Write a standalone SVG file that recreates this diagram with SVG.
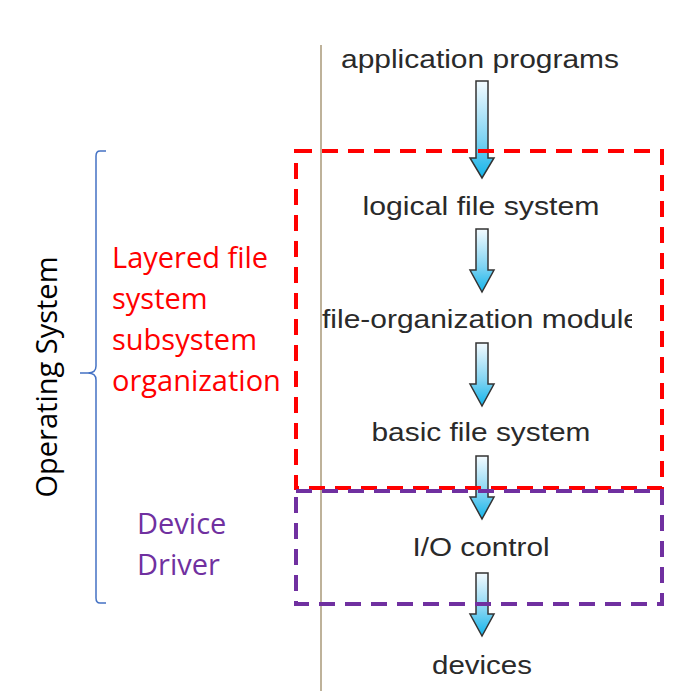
<svg xmlns="http://www.w3.org/2000/svg" width="686" height="691" viewBox="0 0 686 691">
<style>
.lbl{font-family:"Liberation Sans",Arial,sans-serif;font-size:26px;fill:#2a2a2a;text-anchor:middle}
.side{font-family:"Open Sans","Noto Sans",sans-serif;font-size:29px}
.arrow{fill:url(#ag);stroke:#333;stroke-width:1.5}
</style>
<defs>
<linearGradient id="ag" x1="0" y1="0" x2="0" y2="1">
<stop offset="0" stop-color="#f4fbff"/>
<stop offset="0.6" stop-color="#7fd3f2"/>
<stop offset="1" stop-color="#12b4ea"/>
</linearGradient>
<path id="arr" d="M-6,0 H6 V41 H12 L0,63 L-12,41 H-6 Z"/>
<path id="arrL" d="M-6,0 H6 V77 H12 L0,97 L-12,77 H-6 Z"/>
<clipPath id="cl"><rect x="0" y="0" width="632" height="691"/></clipPath>
</defs>
<rect width="686" height="691" fill="#fff"/>
<line x1="321" y1="45" x2="321" y2="691" stroke="#a89878" stroke-width="1.5"/>
<g id="connectors">
<use href="#arrL" class="arrow" x="482" y="81"/>
<use href="#arr" class="arrow" x="482" y="229"/>
<use href="#arr" class="arrow" x="482" y="343"/>
<use href="#arr" class="arrow" x="482" y="456"/>
<use href="#arr" class="arrow" x="482" y="573"/>
</g>
<g id="n1"><text class="lbl" x="480" y="68" textLength="278" lengthAdjust="spacingAndGlyphs">application programs</text></g>
<g id="n2"><text class="lbl" x="481" y="215" textLength="237" lengthAdjust="spacingAndGlyphs">logical file system</text></g>
<g id="n3" clip-path="url(#cl)"><text class="lbl" x="481" y="328" textLength="318" lengthAdjust="spacingAndGlyphs">file-organization module</text></g>
<g id="n4"><text class="lbl" x="481" y="441" textLength="219" lengthAdjust="spacingAndGlyphs">basic file system</text></g>
<g id="n5"><text class="lbl" x="481" y="556" textLength="137" lengthAdjust="spacingAndGlyphs">I/O control</text></g>
<g id="n6"><text class="lbl" x="482" y="674" textLength="100" lengthAdjust="spacingAndGlyphs">devices</text></g>
<g id="red-box"><rect x="296" y="151" width="366" height="337" fill="none" stroke="#ff0000" stroke-width="4" stroke-dasharray="16 10"/></g>
<g id="purple-box"><rect x="296" y="491" width="366" height="113" fill="none" stroke="#7030a0" stroke-width="4" stroke-dasharray="16 10"/></g>
<g id="brace"><path d="M106,151 H100 Q96,151 96,156 V366 Q96,373 88,373 H80 M88,373 Q96,373 96,380 V598 Q96,603 100,603 H106" fill="none" stroke="#4472c4" stroke-width="1.5"/></g>
<g id="os"><text class="side" transform="translate(57,377) rotate(-90)" text-anchor="middle" fill="#000">Operating System</text></g>
<g id="layered"><text class="side" fill="#ff0000"><tspan x="112" y="268">Layered file</tspan><tspan x="112" y="309">system</tspan><tspan x="112" y="350">subsystem</tspan><tspan x="112" y="391">organization</tspan></text></g>
<g id="driver"><text class="side" fill="#7030a0"><tspan x="137" y="534">Device</tspan><tspan x="137" y="575">Driver</tspan></text></g>
</svg>
